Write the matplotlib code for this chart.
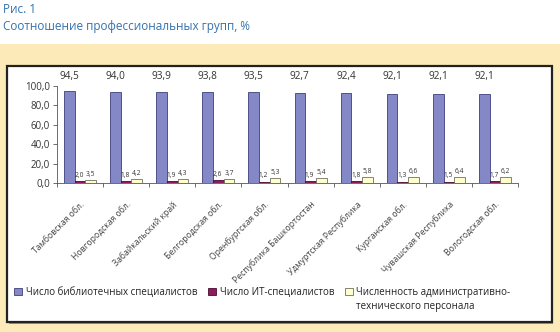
import matplotlib.pyplot as plt
import numpy as np
from matplotlib.patches import Rectangle
from matplotlib.transforms import ScaledTranslation

regions = ["Тамбовская обл.", "Новгородская обл.", "Забайкальский край",
           "Белгородская обл.", "Оренбургская обл.", "Республика Башкортостан",
           "Удмуртская Республика", "Курганская обл.", "Чувашская Республика",
           "Вологодская обл."]
librarians = [94.5, 94.0, 93.9, 93.8, 93.5, 92.7, 92.4, 92.1, 92.1, 92.1]
it_staff = [2.0, 1.8, 1.9, 2.6, 1.2, 1.9, 1.8, 1.3, 1.5, 1.7]
admin_staff = [3.5, 4.2, 4.3, 3.7, 5.3, 5.4, 5.8, 6.6, 6.4, 6.2]
series_names = ["Число библиотечных специалистов", "Число ИТ-специалистов",
                "Численность административно-"]
legend_tail = "технического персонала"
yticks = [0, 20, 40, 60, 80, 100]

plt.rcParams['font.family'] = ['Open Sans', 'DejaVu Sans']


def fmt(v):
    return f"{v:.1f}".replace('.', ',')


fig = plt.figure(figsize=(5.6, 3.32), dpi=100)

# page background: title + yellow band + white framed box
fig.text(0.006, 0.99, "Рис. 1", color='#3471ae', fontsize=8.5, va='top')
fig.text(0.006, 0.94, "Соотношение профессиональных групп, %", color='#3471ae',
         fontsize=8.5, va='top')
fig.patches.append(Rectangle((0, 0), 1, 1 - 44 / 332, transform=fig.transFigure,
                             facecolor='#fcebb8', edgecolor='none', zorder=0))
fig.patches.append(Rectangle((9 / 560, 8 / 332), 544 / 560, 256 / 332,
                             transform=fig.transFigure, facecolor='#9a9280',
                             edgecolor='none', zorder=0))
fig.patches.append(Rectangle((7 / 560, 10 / 332), 545 / 560, 256 / 332,
                             transform=fig.transFigure, facecolor='white',
                             edgecolor='#222222', linewidth=1.6, zorder=0))

ax = fig.add_axes([57 / 560, 1 - 183 / 332, 461 / 560, 97 / 332])
ax.set_zorder(2)
ax.patch.set_alpha(0)

x = np.arange(len(regions))
w = 0.232
cols = ['#8488c6', '#8c1c5c', '#ffffcc']
edges = ['#3d3f7a', '#4a0a2c', '#707060']
for i, (vals, c, e) in enumerate(zip([librarians, it_staff, admin_staff], cols, edges)):
    ax.bar(x + (i - 1) * w, vals, w, color=c, edgecolor=e, linewidth=0.6,
           label=series_names[i])

for xi, v in zip(x, librarians):
    ax.text(xi - w, 104, fmt(v), ha='center', va='bottom', fontsize=7.2,
            color='#333333', clip_on=False)
for xi, v in zip(x, it_staff):
    ax.text(xi - 0.02, v + 2.5, fmt(v), ha='center', va='bottom', fontsize=4.8,
            color='#333333')
for xi, v in zip(x, admin_staff):
    ax.text(xi + w, v + 2.0, fmt(v), ha='center', va='bottom', fontsize=4.8,
            color='#333333')

ax.set_xlim(-0.5, len(regions) - 0.5)
ax.set_ylim(0, 100)
ax.set_yticks(yticks)
ax.set_yticklabels([fmt(t) for t in yticks], fontsize=7, color='#333333')
ax.set_xticks(x)
ax.set_xticklabels(regions, rotation=45, ha='right', rotation_mode='anchor',
                   fontsize=6.2, color='#444444')
shift = ScaledTranslation(-6 / 100, 0, fig.dpi_scale_trans)
for lab in ax.get_xticklabels():
    lab.set_transform(lab.get_transform() + shift)
ax.set_xticks(np.arange(len(regions) + 1) - 0.5, minor=True)
ax.tick_params(axis='x', which='major', length=0, pad=12)
ax.tick_params(axis='x', which='minor', length=3, color='#555555', width=0.6)
ax.tick_params(axis='y', length=3, color='#555555', width=0.6, pad=2)
for s in ['top', 'right']:
    ax.spines[s].set_visible(False)
for s in ['left', 'bottom']:
    ax.spines[s].set_color('#555555')
    ax.spines[s].set_linewidth(0.6)

h, l = ax.get_legend_handles_labels()
leg = fig.legend(h, l, loc='upper left', bbox_to_anchor=(14 / 560, 1 - 287 / 332),
                 ncol=3, frameon=False, fontsize=7.0, handlelength=0.8,
                 handleheight=0.8, handletextpad=0.4, columnspacing=1.1,
                 borderaxespad=0, borderpad=0, labelcolor='#222222')

# second line of the wrapped third legend label
fig.canvas.draw()
bb = leg.get_texts()[2].get_window_extent().transformed(fig.transFigure.inverted())
fig.text(bb.x0, bb.y0 - 0.01, legend_tail, fontsize=7.0, color='#222222', va='top')

fig.savefig('out.png', dpi=100)
